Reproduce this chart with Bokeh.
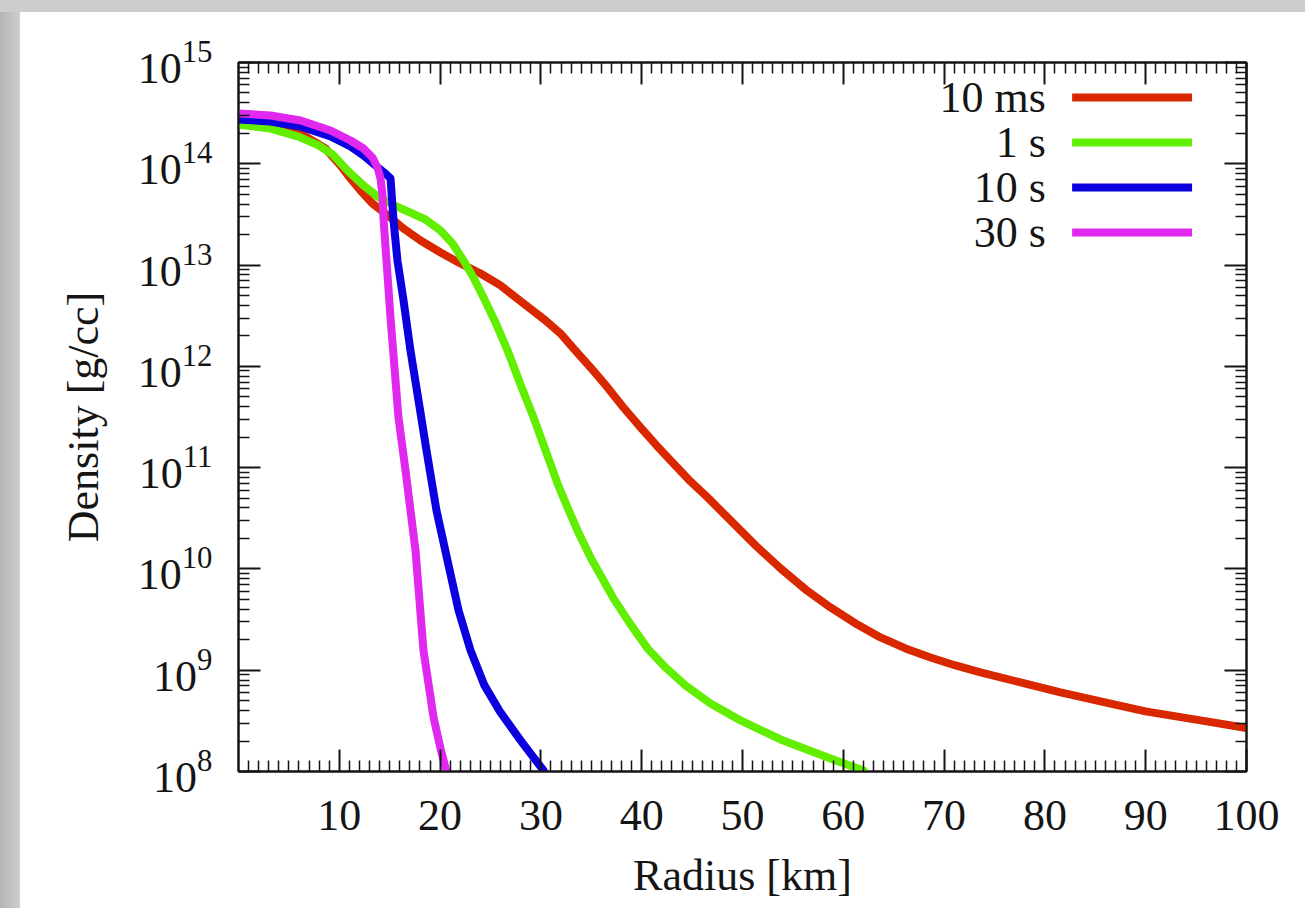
import numpy as np
from bokeh.plotting import figure
from bokeh.models import (FixedTicker, LinearAxis, LogAxis, Range1d, Label,
                          CustomJSTickFormatter, Spacer)
from bokeh.layouts import column, row
from bokeh.embed import file_html
from bokeh.resources import INLINE

# ---------------- data (radius in km, log10 density in g/cc) ----------------
R_10MS = [0.0, 3.17, 6.15, 8.63, 10.12, 11.11, 12.10, 13.29, 14.58, 16.37, 18.06,
          20.04, 22.02, 24.01, 25.99, 28.27, 30.46, 31.94, 33.23, 34.92, 36.61,
          38.19, 39.88, 41.47, 43.15, 44.84, 46.53, 48.81, 51.29, 53.77, 56.25,
          58.73, 61.21, 63.69, 66.17, 68.65, 71.13, 73.61, 77.58, 81.55, 85.52,
          89.98, 95.44, 100.0]
LOGRHO_10MS = [14.408, 14.378, 14.299, 14.151, 13.983, 13.855, 13.736, 13.608,
               13.509, 13.361, 13.243, 13.124, 13.016, 12.917, 12.799, 12.621,
               12.453, 12.325, 12.177, 11.989, 11.792, 11.594, 11.397, 11.219,
               11.042, 10.864, 10.706, 10.479, 10.232, 10.005, 9.798, 9.620,
               9.462, 9.324, 9.215, 9.126, 9.047, 8.978, 8.880, 8.781, 8.692,
               8.594, 8.505, 8.430]

R_1S = [0.0, 3.17, 5.95, 7.94, 9.33, 10.81, 12.40, 13.79, 15.28, 16.77, 18.55,
        20.04, 21.23, 22.32, 23.31, 24.31, 25.50, 26.69, 27.98, 29.27, 30.46,
        31.65, 32.64, 33.63, 34.92, 36.21, 37.20, 38.89, 40.58, 42.36, 44.35,
        46.83, 49.80, 53.77, 58.73, 62.00]
LOGRHO_1S = [14.388, 14.348, 14.269, 14.181, 14.092, 13.934, 13.786, 13.677,
             13.598, 13.529, 13.450, 13.342, 13.213, 13.045, 12.878, 12.680,
             12.433, 12.157, 11.821, 11.496, 11.170, 10.844, 10.607, 10.380,
             10.114, 9.886, 9.709, 9.452, 9.215, 9.028, 8.850, 8.672, 8.504,
             8.317, 8.129, 8.010]

R_10S = [0.0, 3.17, 6.15, 9.13, 11.11, 12.40, 13.59, 14.58, 15.08, 15.38, 15.77,
         16.37, 17.06, 17.86, 18.65, 19.64, 20.73, 21.83, 23.02, 24.40, 25.99,
         27.98, 30.26]
LOGRHO_10S = [14.437, 14.418, 14.368, 14.270, 14.171, 14.082, 13.983, 13.904,
              13.855, 13.440, 13.045, 12.651, 12.157, 11.663, 11.170, 10.578,
              10.084, 9.590, 9.196, 8.850, 8.583, 8.307, 8.010]

R_30S = [0.0, 3.17, 6.15, 9.13, 11.11, 12.40, 13.29, 13.79, 14.09, 14.29, 14.38,
         14.68, 15.08, 15.87, 16.57, 17.56, 18.35, 19.35, 20.04, 20.63]
LOGRHO_30S = [14.497, 14.477, 14.427, 14.329, 14.230, 14.151, 14.062, 13.963,
              13.855, 13.687, 13.470, 13.045, 12.483, 11.496, 10.972, 10.183,
              9.196, 8.534, 8.228, 8.001]

SERIES_LABELS = ["10 ms", "1 s", "10 s", "30 s"]
SERIES_COLORS = ["#d92800", "#62ee00", "#0c00de", "#e028ee"]

X_TICKS = [10, 20, 30, 40, 50, 60, 70, 80, 90, 100]
X_MINOR = [i for i in range(1, 100) if i % 10]
Y_EXPONENTS = [8, 9, 10, 11, 12, 13, 14, 15]
Y_TICKS = [10.0 ** e for e in Y_EXPONENTS]
Y_MINOR = [m * 10.0 ** e for e in Y_EXPONENTS[:-1] for m in range(2, 10)]

X_LABEL = "Radius [km]"
Y_LABEL = "Density [g/cc]"

# legend layout (position inside the frame)
LEG_TEXT_X = 80.1
LEG_LINE_X = (82.7, 94.6)
LEG_LOG_Y0 = 14.654
LEG_LOG_STEP = 0.444

FONT = "Liberation Serif"
INK = "#151515"

p = figure(frame_width=1008, frame_height=709,
           x_range=Range1d(0, 100), y_range=Range1d(1e8, 1e15),
           y_axis_type="log", output_backend="svg", toolbar_location=None,
           min_border_left=218, min_border_right=59, min_border_top=50,
           min_border_bottom=137)
p.grid.visible = False
p.background_fill_color = "white"
p.border_fill_color = "white"
p.outline_line_color = INK
p.outline_line_width = 2


def style_axis(ax, labels=True):
    ax.axis_line_color = INK
    ax.axis_line_width = 2
    ax.major_tick_in = 22
    ax.major_tick_out = 0
    ax.minor_tick_in = 11
    ax.minor_tick_out = 0
    ax.major_tick_line_color = INK
    ax.major_tick_line_width = 2
    ax.minor_tick_line_color = INK
    ax.minor_tick_line_width = 1.5
    ax.major_label_text_font = FONT
    ax.major_label_text_font_size = "44px"
    ax.major_label_text_color = INK
    ax.axis_label_text_font = FONT
    ax.axis_label_text_font_size = "44px"
    ax.axis_label_text_font_style = "normal"
    ax.axis_label_text_color = INK
    if not labels:
        ax.formatter = CustomJSTickFormatter(code="return ''")
        ax.major_label_standoff = 0


xt = FixedTicker(ticks=X_TICKS, minor_ticks=X_MINOR)
yt = FixedTicker(ticks=Y_TICKS, minor_ticks=Y_MINOR)

xa = p.xaxis[0]
xa.ticker = xt
xa.axis_label = X_LABEL
style_axis(xa)
xa.major_label_standoff = 29
xa.axis_label_standoff = 18

ya = p.yaxis[0]
ya.ticker = yt
ya.axis_label = Y_LABEL
style_axis(ya)
ya.major_label_standoff = 26
ya.axis_label_standoff = 27

top = LinearAxis(ticker=xt)
style_axis(top, labels=False)
p.add_layout(top, "above")
right = LogAxis(ticker=yt)
style_axis(right, labels=False)
p.add_layout(right, "right")

radii = [R_10MS, R_1S, R_10S, R_30S]
logs = [LOGRHO_10MS, LOGRHO_1S, LOGRHO_10S, LOGRHO_30S]
for i, (r, lg, lab, col) in enumerate(zip(radii, logs, SERIES_LABELS, SERIES_COLORS)):
    p.line(r, 10.0 ** np.array(lg), line_color=col, line_width=8,
           line_join="round", line_cap="round")
    ly = 10.0 ** (LEG_LOG_Y0 - i * LEG_LOG_STEP)
    p.line(list(LEG_LINE_X), [ly, ly], line_color=col, line_width=8)
    p.add_layout(Label(x=LEG_TEXT_X, y=ly, text=lab, text_align="right",
                       text_baseline="middle", text_font=FONT,
                       text_font_size="44px", text_color=INK))

gray = {"background": "linear-gradient(to right, #b4b4b4, #cfcfcf)"}
top_strip = Spacer(width=1305, height=12, styles={"background-color": "#cdcdcd"})
left_strip = Spacer(width=20, height=896, styles=gray)
layout = column(top_strip, row(left_strip, p))

open("out.html", "w").write(file_html(layout, INLINE))
